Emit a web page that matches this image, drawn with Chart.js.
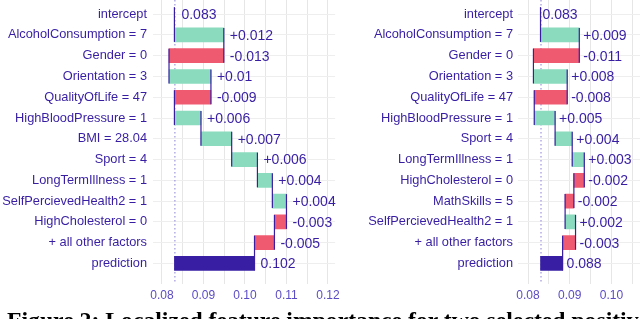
<!DOCTYPE html>
<html>
<head>
<meta charset="utf-8">
<script src="https://cdn.jsdelivr.net/npm/chart.js@4"></script>
<style>
  html,body{margin:0;padding:0;background:#fff;width:640px;height:319px;overflow:hidden;position:relative}
  canvas{position:absolute;top:0}
  #left{left:0}
  #right{left:338px}
  .caption{position:absolute;left:7px;top:309px;font:bold 23.7px "Liberation Serif","Times New Roman",serif;color:#000;white-space:nowrap;line-height:23px}
</style>
</head>
<body>
<canvas id="left" width="345" height="308"></canvas>
<canvas id="right" width="302" height="308"></canvas>
<div class="caption">Figure 2: Localized feature importance for two selected positive instances</div>
<script>
// left panel
const rowsL=["intercept","AlcoholConsumption = 7","Gender = 0","Orientation = 3","QualityOfLife = 47","HighBloodPressure = 1","BMI = 28.04","Sport = 4","LongTermIllness = 1","SelfPercievedHealth2 = 1","HighCholesterol = 0","+ all other factors","prediction"]
const interceptL=0.083
const contribL=[0.0119,-0.0132,0.0101,-0.0088,0.0064,0.0074,0.0062,0.0036,0.0034,-0.0029,-0.0048]
const textL=["0.083","+0.012","-0.013","+0.01","-0.009","+0.006","+0.007","+0.006","+0.004","+0.004","-0.003","-0.005","0.102"]
const ticksL=[0.08,0.085,0.09,0.095,0.10,0.105,0.11,0.115,0.12]

// right panel
const rowsR=["intercept","AlcoholConsumption = 7","Gender = 0","Orientation = 3","QualityOfLife = 47","HighBloodPressure = 1","Sport = 4","LongTermIllness = 1","HighCholesterol = 0","MathSkills = 5","SelfPercievedHealth2 = 1","+ all other factors","prediction"]
const interceptR=0.083
const contribR=[0.0093,-0.0110,0.0081,-0.0079,0.0050,0.0041,0.0029,-0.0025,-0.0021,0.0025,-0.0031]
const textR=["0.083","+0.009","-0.011","+0.008","-0.008","+0.005","+0.004","+0.003","-0.002","-0.002","+0.002","-0.003","0.088"]
const ticksR=[0.08,0.085,0.09,0.095,0.10,0.105]

const PURPLE="#371ea3", GREEN="#8bdcbe", RED="#f05a71"
const FONT="'Liberation Sans', Arial, sans-serif"
const BAR=14

function waterfall(canvasId,rows,intercept,contrib,texts,ticks,cfg){
  // build floating segments
  const segs=[[intercept,intercept]]
  let cum=intercept
  contrib.forEach(c=>{segs.push([cum,cum+c]);cum+=c})
  segs.push([intercept,cum])
  const colors=segs.map((s,i)=>{
    if(i===0) return "rgba(0,0,0,0)"
    if(i===segs.length-1) return PURPLE
    return s[1]>=s[0]?GREEN:RED
  })

  const overlay={
    id:"overlay",
    beforeDatasetsDraw(chart){
      const {ctx,chartArea}=chart
      const x=chart.scales.x.getPixelForValue(intercept)
      ctx.save()
      ctx.strokeStyle="#8a7fd6"
      ctx.lineWidth=1
      ctx.setLineDash([1.5,2.5])
      ctx.beginPath()
      ctx.moveTo(x+0.5,chartArea.top)
      ctx.lineTo(x+0.5,chartArea.bottom)
      ctx.stroke()
      ctx.restore()
    },
    afterDatasetsDraw(chart){
      const {ctx}=chart
      const xs=chart.scales.x, ys=chart.scales.y
      ctx.save()
      ctx.strokeStyle=PURPLE
      ctx.lineWidth=1.2
      for(let i=0;i<segs.length-1;i++){
        const x=xs.getPixelForValue(segs[i][1])
        ctx.beginPath()
        ctx.moveTo(x,ys.getPixelForValue(i)-BAR/2)
        ctx.lineTo(x,ys.getPixelForValue(i+1)+BAR/2)
        ctx.stroke()
      }
      ctx.fillStyle=PURPLE
      ctx.font="14px "+FONT
      ctx.textBaseline="middle"
      ctx.textAlign="left"
      segs.forEach((s,i)=>{
        const x=xs.getPixelForValue(Math.max(s[0],s[1]))+(i===0?cfg.gap0:cfg.gap)
        ctx.fillText(texts[i],x,ys.getPixelForValue(i)+1)
      })
      ctx.restore()
    }
  }

  return new Chart(document.getElementById(canvasId),{
    type:"bar",
    data:{
      datasets:[{
        data:segs.map((s,i)=>({x:s,y:i})),
        backgroundColor:colors,
        barThickness:BAR,
        borderWidth:0
      }]
    },
    options:{
      indexAxis:"y",
      responsive:false,
      animation:false,
      devicePixelRatio:1,
      layout:{padding:{top:0,right:cfg.padRight,bottom:0,left:0}},
      plugins:{legend:{display:false},tooltip:{enabled:false}},
      scales:{
        x:{
          type:"linear",
          min:cfg.min,max:cfg.max,
          afterBuildTicks(s){s.ticks=ticks.map(v=>({value:v}))},
          grid:{color:"#e6e6e6",drawTicks:false},
          border:{display:false},
          ticks:{
            autoSkip:false,maxRotation:0,padding:5,
            color:"#5b4cc4",font:{family:FONT,size:12},
            callback:v=>Math.abs(Math.round(v*100)-v*100)<1e-6?v.toFixed(2):""
          }
        },
        y:{
          type:"linear",
          reverse:true,
          offset:false,
          min:-0.68,max:12.97,
          afterBuildTicks(s){s.ticks=rows.map((r,i)=>({value:i}))},
          afterFit(s){s.width=cfg.axisWidth;s.paddingTop=0;s.paddingBottom=0},
          grid:{color:"#eeeeee",drawTicks:false,offset:false},
          border:{display:false},
          ticks:{
            autoSkip:false,padding:cfg.labelPad,
            color:PURPLE,font:{family:FONT,size:12.8},
            callback:v=>rows[v]
          }
        }
      }
    },
    plugins:[overlay]
  })
}

waterfall("left",rowsL,interceptL,contribL,textL,ticksL,
  {min:0.07784,max:0.12173,axisWidth:153,labelPad:6,padRight:9,gap:6,gap0:7})
waterfall("right",rowsR,interceptR,contribR,textR,ticksR,
  {min:0.0776,max:0.10686,axisWidth:180,labelPad:5,padRight:0,gap:4,gap0:2})
</script>
</body>
</html>
